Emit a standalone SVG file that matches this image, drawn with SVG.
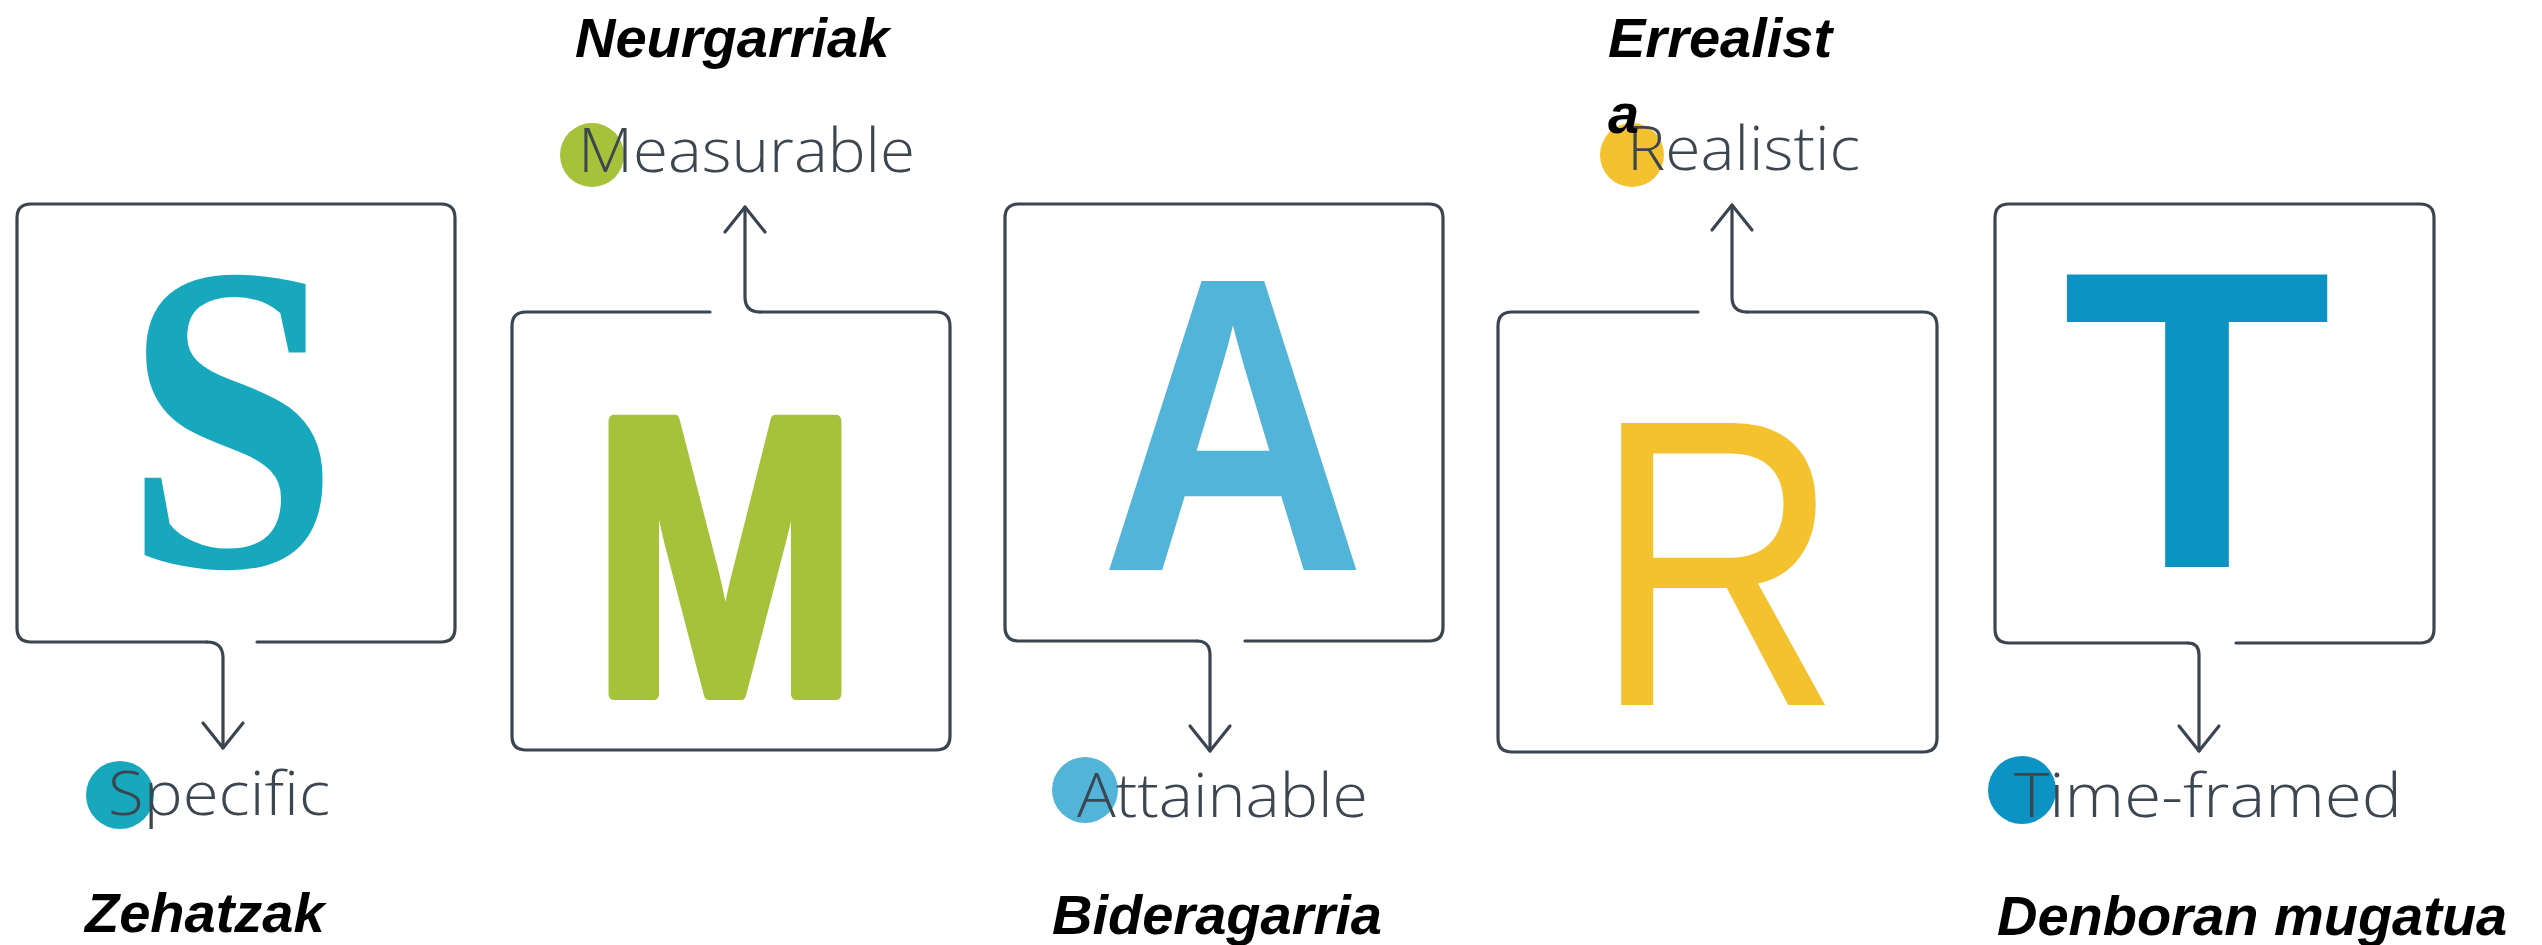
<svg xmlns="http://www.w3.org/2000/svg" width="2542" height="945" viewBox="0 0 2542 945">
<style>
.box{fill:none;stroke:#3b4550;stroke-width:3.2;stroke-linecap:round;stroke-linejoin:round}
.conn{fill:none;stroke:#3b4550;stroke-width:3.2;stroke-linecap:round;stroke-linejoin:round}
.lbl{font-family:"Open Sans","Segoe UI","DejaVu Sans",sans-serif;font-weight:300;font-size:61px;fill:#3c4650}
.eus{font-family:"Liberation Sans",Arial,sans-serif;font-weight:bold;font-style:italic;font-size:56px;fill:#000}
.big{font-family:"Liberation Sans",Arial,sans-serif}
</style>
<defs>
<marker id="arr" markerUnits="userSpaceOnUse" viewBox="-30 -30 60 60" markerWidth="60" markerHeight="60" refX="0" refY="0" orient="auto">
<path d="M-25,-20 L0,0 L-25,20" fill="none" stroke="#3b4550" stroke-width="3.2" stroke-linecap="round" stroke-linejoin="round"/>
</marker>
</defs>
<rect width="2542" height="945" fill="#ffffff"/>

<g id="node-S">
<path class="box" d="M257,642 L441,642 Q455,642 455,628 L455,218 Q455,204 441,204 L31,204 Q17,204 17,218 L17,628 Q17,642 31,642 L207,642"/>
<text x="124" y="566" style="font-family:'Liberation Serif','DejaVu Serif',serif" font-weight="bold" font-size="440" fill="#17a8be" textLength="215" lengthAdjust="spacingAndGlyphs">S</text>
<circle cx="120" cy="795" r="34" fill="#17a8be"/>
<text x="108" y="815" class="lbl" textLength="222" lengthAdjust="spacingAndGlyphs">Specific</text>
<text x="85" y="932" class="eus">Zehatzak</text>
</g>

<g id="node-M">
<path class="box" d="M760,312 L936,312 Q950,312 950,326 L950,736 Q950,750 936,750 L526,750 Q512,750 512,736 L512,326 Q512,312 526,312 L710,312"/>
<text x="592" y="694" class="big" font-weight="bold" font-size="397" fill="#a5c23a" stroke="#a5c23a" stroke-width="12" stroke-linejoin="round" textLength="266" lengthAdjust="spacingAndGlyphs">M</text>
<circle cx="592" cy="155" r="32" fill="#a5c23a"/>
<text x="578" y="172" class="lbl" textLength="337" lengthAdjust="spacingAndGlyphs">Measurable</text>
<text x="575" y="57" class="eus">Neurgarriak</text>
</g>

<g id="node-A">
<path class="box" d="M1245,641 L1429,641 Q1443,641 1443,627 L1443,218 Q1443,204 1429,204 L1019,204 Q1005,204 1005,218 L1005,627 Q1005,641 1019,641 L1197,641"/>
<text x="1100" y="570" class="big" font-weight="bold" font-size="420" fill="#53b4da" textLength="266" lengthAdjust="spacingAndGlyphs">A</text>
<circle cx="1085" cy="790" r="33" fill="#53b4da"/>
<text x="1077" y="817" class="lbl" textLength="291" lengthAdjust="spacingAndGlyphs">Attainable</text>
<text x="1052" y="934" class="eus">Bideragarria</text>
</g>

<g id="node-R">
<path class="box" d="M1747,312 L1923,312 Q1937,312 1937,326 L1937,738 Q1937,752 1923,752 L1512,752 Q1498,752 1498,738 L1498,326 Q1498,312 1512,312 L1698,312"/>
<text x="1593" y="705" class="big" font-size="410" fill="#f5c22f" textLength="248" lengthAdjust="spacingAndGlyphs">R</text>
<circle cx="1632" cy="155" r="32" fill="#f5c22f"/>
<text x="1627" y="170" class="lbl" textLength="233" lengthAdjust="spacingAndGlyphs">Realistic</text>
<text x="1608" y="57" class="eus">Errealist</text>
<text x="1608" y="133" class="eus">a</text>
</g>

<g id="node-T">
<path class="box" d="M2236,643 L2420,643 Q2434,643 2434,629 L2434,218 Q2434,204 2420,204 L2009,204 Q1995,204 1995,218 L1995,629 Q1995,643 2009,643 L2188,643"/>
<text x="2062" y="567" class="big" font-weight="bold" font-size="425" fill="#0c93c4" textLength="270" lengthAdjust="spacingAndGlyphs">T</text>
<circle cx="2022" cy="790" r="34" fill="#0c93c4"/>
<text x="2014" y="817" class="lbl" textLength="388" lengthAdjust="spacingAndGlyphs">Time-framed</text>
<text x="1997" y="935" class="eus">Denboran mugatua</text>
</g>

<g id="connectors">
<path class="conn" d="M207,642 Q223,642 223,658 L223,748" marker-end="url(#arr)"/>
<path class="conn" d="M760,312 Q745,312 745,297 L745,207" marker-end="url(#arr)"/>
<path class="conn" d="M1197,641 Q1210,641 1210,655 L1210,751" marker-end="url(#arr)"/>
<path class="conn" d="M1747,312 Q1732,312 1732,297 L1732,205" marker-end="url(#arr)"/>
<path class="conn" d="M2188,643 Q2199,643 2199,655 L2199,751" marker-end="url(#arr)"/>
</g>
</svg>
